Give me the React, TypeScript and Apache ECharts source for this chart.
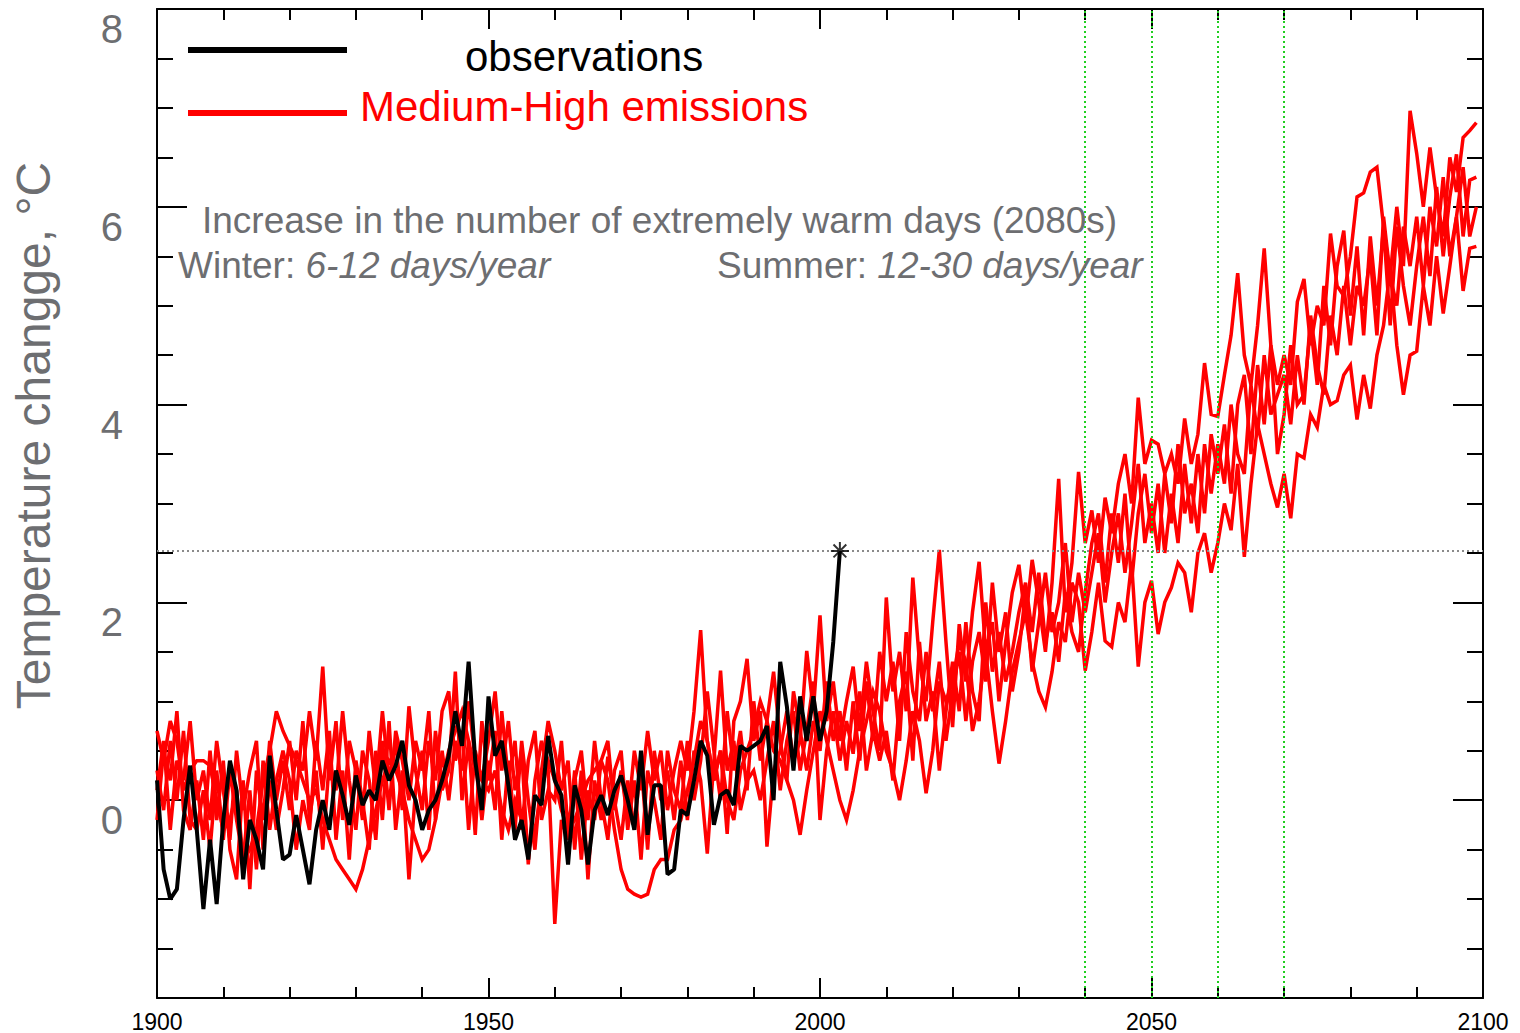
import React, { useEffect, useRef } from "react";
import * as echarts from "echarts";

const FONT = "'Liberation Sans', Arial, Helvetica, sans-serif";
const GRAY = "#6d6e71";
const RED = "#ff0000";

const obsStartYear = 1900;
const modelStartYear = 1900;

// Observed summer temperature anomaly (°C), 1900-2003
const observations = [
  0.2, -0.7, -1.0, -0.9, -0.2, 0.35, -0.3, -1.1, -0.4, -1.05,
  -0.2, 0.4, 0.1, -0.8, -0.2, -0.4, -0.7, 0.45, -0.1, -0.6,
  -0.55, -0.15, -0.5, -0.85, -0.3, 0.0, -0.3, 0.3, 0.05, -0.25,
  0.25, -0.05, 0.1, 0.0, 0.4, 0.2, 0.35, 0.6, 0.15, 0.0,
  -0.3, -0.1, 0.0, 0.2, 0.45, 0.9, 0.55, 1.4, 0.4, -0.1,
  1.05, 0.45, 0.6, 0.15, -0.4, -0.2, -0.6, 0.05, -0.05, 0.65,
  0.2, 0.05, -0.65, 0.15, -0.1, -0.65, -0.1, 0.05, -0.15, 0.1,
  0.25, 0.0, -0.3, 0.5, -0.35, 0.15, 0.15, -0.75, -0.7, -0.1,
  -0.15, 0.2, 0.6, 0.45, -0.25, 0.05, 0.1, -0.05, 0.55, 0.5,
  0.55, 0.6, 0.75, 0.0, 1.4, 0.95, 0.3, 1.05, 0.6, 1.05,
  0.6, 0.9, 1.6, 2.52,
];

// Model ensemble members, Medium-High emissions, 1900-2099
const memberA = [
  0.7, 0.4, 0.8, 0.6, 0.1, 0.3, 0.4, 0.4, 0.35, 0.0,
  -0.3, -0.2, 0.1, -0.6, -0.5, -0.3, 0.2, 0.5, 0.9, 0.7,
  0.55, 0.4, 0.2, 0.0, 0.1, -0.2, -0.4, -0.6, -0.7, -0.8,
  -0.9, -0.7, -0.4, -0.1, 0.2, 0.4, 0.3, 0.1, -0.2, -0.4,
  -0.6, -0.5, -0.2, 0.2, 0.5, 0.7, 0.9, 0.6, 0.3, 0.2,
  0.1, 0.3, -0.1, -0.3, 0.0, -0.2, -0.5, -0.3, 0.1, 0.4,
  0.2, -0.1, -0.3, -0.2, 0.0, 0.2, 0.3, 0.4, 0.2, -0.3,
  -0.7, -0.9, -0.95, -0.98, -0.95, -0.7, -0.6, -0.6, -0.3, -0.2,
  0.1, 0.4, 0.8, 0.6, 0.2, 0.5, 0.0, -0.2, 0.3, 0.5,
  0.7, 1.0, 0.8, 0.5, 0.4, 0.2, 0.0, -0.35, 0.1, 0.5,
  0.9, 0.6, 0.3, 0.0, -0.2, 0.1, 0.5, 0.8, 1.1, 0.9,
  0.5, 0.3, 0.0, 0.4, 0.9, 0.6, 0.07, 0.5, 1.2, 1.0,
  1.2, 1.6, 1.4, 0.7, 1.0, 1.5, 0.9, 0.37, 0.8, 1.3,
  1.6, 1.9, 1.4, 1.1, 0.94, 1.3, 1.8, 1.6, 2.2, 2.0,
  1.31, 1.7, 2.2, 1.61, 1.55, 2.0, 1.8, 2.4, 1.35, 2.0,
  2.22, 1.68, 2.0, 2.15, 2.4, 2.3, 1.9, 2.5, 2.7, 2.3,
  2.6, 3.0, 2.73, 3.4, 2.46, 3.2, 3.8, 3.5, 3.2, 2.96,
  3.3, 2.85, 3.5, 3.46, 3.9, 3.77, 4.2, 4.0, 4.04, 4.3,
  4.4, 3.85, 4.3, 3.96, 4.5, 4.8, 5.38, 4.6, 4.1, 4.5,
  4.54, 5.2, 4.8, 5.5, 4.92, 5.4, 5.9, 5.15, 5.58, 5.6,
];

const memberB = [
  -0.2, 0.5, 0.2, 0.9, -0.1, -0.3, 0.2, -0.4, 0.5, -0.2,
  0.4, -0.5, -0.8, 0.2, -0.9, 0.3, -0.2, 0.6, 0.0, 0.4,
  -0.1, 0.5, 0.3, 0.9, 0.4, 1.35, 0.2, 0.8, -0.2, 0.6,
  0.3, -0.2, 0.7, 0.1, 0.9, 0.2, 0.6, -0.1, 0.95, 0.3,
  -0.1, 0.6, 0.2, 0.9, 1.1, 0.4, 0.7, -0.3, 0.5, 0.2,
  0.6, 1.1, 0.3, 0.8, 0.1, 0.5, -0.65, 0.2, 0.6, 0.3,
  -1.25, -0.2, -0.4, 0.3, -0.6, 0.1, -0.2, 0.4, 0.6, -0.1,
  0.3, -0.2, 0.5, 0.1, 0.7, 0.2, 0.5, -0.1, 0.3, 0.6,
  0.3, 0.9, 1.72, 0.6, 0.2, 0.5, -0.34, 0.8, 1.0, 1.43,
  0.6, 0.9, -0.47, 0.3, 0.5, 0.9, 0.4, 0.6, 1.51, 0.9,
  1.87, 0.8, 1.2, 0.6, 1.0, 1.35, 0.7, 1.4, 0.9, 0.5,
  2.05, 1.1, 1.5, 0.9, 2.25, 1.4, 1.0, 1.8, 2.53, 1.6,
  0.74, 1.78, 1.2, 1.9, 2.41, 1.5, 1.8, 1.0, 1.6, 2.1,
  2.38, 1.8, 2.43, 2.0, 1.5, 2.2, 3.25, 1.9, 2.4, 3.32,
  2.6, 2.93, 2.4, 3.06, 2.7, 3.2, 3.5, 3.0, 4.07, 3.4,
  3.64, 3.6, 3.3, 3.5, 3.2, 3.86, 3.4, 3.7, 4.42, 3.9,
  3.88, 4.3, 4.7, 5.33, 4.5, 4.2, 4.8, 5.58, 4.6, 4.2,
  4.5, 4.2, 5.04, 5.27, 4.6, 5.0, 4.8, 5.73, 5.2, 5.1,
  5.5, 6.1, 6.14, 6.35, 6.4, 5.8, 5.3, 6.0, 5.4, 6.97,
  6.54, 6.0, 6.6, 6.1, 5.7, 6.5, 6.15, 6.7, 6.77, 6.85,
];

const memberC = [
  0.3, -0.1, 0.6, 0.0, 0.7, -0.2, -0.3, 0.1, -0.5, 0.3,
  -0.4, 0.3, -0.2, -0.6, 0.1, -0.7, 0.4, -0.3, 0.2, 0.5,
  0.2, -0.5, 0.0, -0.3, 0.6, 0.1, 0.7, -0.4, 0.3, -0.6,
  0.4, 0.0, -0.5, 0.5, -0.2, 0.8, -0.3, 0.3, -0.8, 0.1,
  0.5, -0.3, 0.7, 0.1, 0.3, 1.3, 0.0, 0.6, -0.35, 0.8,
  0.2, 0.7, -0.4, 0.4, -0.3, 0.6, 0.0, -0.5, 0.3, 0.8,
  0.5, 0.1, 0.4, -0.5, 0.3, -0.8, 0.2, -0.2, 0.44, 0.0,
  -0.4, 0.2, -0.3, 0.4, -0.5, 0.5, 0.0, 0.3, -0.2, 0.4,
  -0.2, 0.5, 0.2, -0.54, 0.4, 1.31, 0.3, 0.6, -0.1, 0.2,
  0.3, 0.0, 0.4, 0.8, 0.1, 0.6, 0.9, 0.3, 0.7, 1.2,
  -0.2, 0.5, 0.9, 0.4, 0.8, 0.47, 1.1, 0.3, 0.7, 0.4,
  0.7, 0.2, 1.0, 1.3, 0.4, 1.6, 0.8, 1.1, 0.3, 0.9,
  1.4, 0.9, 1.8, 1.1, 0.8, 2.0, 1.3, 1.7, 1.2, 1.5,
  1.9, 2.2, 1.7, 2.3, 1.6, 1.9, 1.4, 2.1, 1.7, 1.5,
  2.1, 2.6, 2.9, 2.2, 2.9, 2.4, 3.1, 2.2, 2.9, 3.3,
  2.7, 3.2, 2.5, 3.1, 2.6, 3.4, 2.8, 3.5, 2.9, 3.7,
  3.3, 3.8, 3.1, 4.0, 4.3, 3.5, 4.4, 3.8, 4.6, 3.5,
  3.9, 4.6, 4.0, 4.1, 4.8, 4.2, 5.2, 4.6, 5.4, 5.76,
  4.9, 5.6, 4.7, 5.7, 5.0, 5.8, 4.8, 5.8, 5.2, 4.8,
  5.4, 5.9, 5.3, 6.2, 5.5, 6.1, 6.53, 5.7, 6.27, 6.3,
];

const memberD = [
  0.1, 0.6, -0.3, 0.4, 0.2, 0.8, 0.0, 0.3, -0.2, 0.6,
  0.1, -0.4, 0.5, -0.1, 0.3, 0.6, -0.5, 0.2, -0.3, 0.1,
  0.6, 0.0, 0.8, -0.2, 0.3, -0.5, 0.4, 0.1, 0.9, 0.2,
  -0.3, 0.5, 0.2, -0.4, 0.6, -0.1, 0.7, 0.4, 0.0, 0.6,
  0.3, 0.9, -0.2, 0.5, 0.0, 0.6, 0.3, 1.0, 0.4, -0.2,
  0.4, -0.1, 0.9, 0.2, 0.6, -0.3, 0.4, 0.7, -0.2, 0.1,
  0.0, 0.6, -0.3, 0.2, 0.5, -0.2, 0.6, 0.0, -0.4, 0.3,
  0.5, -0.3, 0.2, -0.6, 0.3, 0.0, -0.4, 0.5, 0.1, -0.1,
  0.6, 0.0, 0.4, 1.1, 0.5, 0.0, 0.9, 0.3, 0.7, 0.1,
  1.0, 0.4, 0.8, 1.3, 0.6, 0.2, 1.1, 0.7, 0.3, 0.8,
  0.5, 1.2, 0.6, 0.9, 0.3, 1.0, 0.4, 1.2, 0.6, 1.5,
  1.0, 1.4, 0.6, 1.7, 1.1, 0.8, 1.5, 0.9, 1.4, 0.6,
  1.1, 1.5, 0.8, 1.4, 1.7, 1.2, 2.2, 1.5, 1.9, 1.1,
  1.5, 2.1, 1.3, 1.8, 2.3, 1.7, 2.0, 2.6, 1.8, 2.3,
  1.9, 2.3, 2.7, 2.0, 2.5, 2.9, 2.3, 2.8, 3.4, 2.6,
  3.0, 2.5, 3.3, 2.8, 3.6, 2.9, 3.2, 2.7, 3.6, 3.1,
  3.6, 3.2, 4.0, 3.5, 3.3, 4.2, 3.7, 4.5, 3.9, 4.1,
  4.3, 3.8, 4.5, 4.0, 4.9, 4.4, 4.1, 4.9, 4.5, 5.2,
  4.6, 5.2, 5.0, 5.5, 4.7, 5.9, 5.3, 5.0, 5.8, 5.4,
  5.9, 5.2, 6.0, 5.6, 6.3, 5.5, 5.9, 6.4, 5.7, 6.0,
];

const yLabelValues = [0, 2, 4, 6, 8];
const markerYears = [2040, 2050, 2060, 2070];
const heatwaveYear = 2003;
const heatwaveValue = 2.52;

const yAxisTitle = "Temperature changge, °C";
const legendLabels = ["observations", "Medium-High emissions"];
const annotationTitle = "Increase in the number of extremely warm days (2080s)";
const winterText = "Winter: {i|6-12 days/year}";
const summerText = "Summer: {i|12-30 days/year}";

const toPairs = (start: number, vals: number[]) => vals.map((v, i) => [start + i, v]);

const ASTERISK =
  "path://M-1,-9L1,-9L1,9L-1,9Z M-9,-1L9,-1L9,1L-9,1Z M-5.7,-7.1L7.1,5.7L5.7,7.1L-7.1,-5.7Z M5.7,-7.1L7.1,-5.7L-5.7,7.1L-7.1,5.7Z";

function buildOption(): any {
  const axisLine = { show: true, onZero: false, lineStyle: { color: "#000", width: 2 } };
  const tickStyle = { color: "#000", width: 2 };
  const redLine = (name: string, vals: number[]) => ({
    name,
    type: "line",
    data: toPairs(modelStartYear, vals),
    showSymbol: false,
    symbol: "none",
    lineStyle: { color: RED, width: 3.5, join: "miter" },
    z: 2,
  });
  const richItalic = {
    i: { fontStyle: "italic", fontSize: 37, fontFamily: FONT, fill: GRAY },
  };
  return {
    animation: false,
    backgroundColor: "#ffffff",
    grid: { left: 157, right: 37, top: 9, bottom: 35, containLabel: false },
    xAxis: [
      {
        type: "value",
        min: 1900,
        max: 2100,
        interval: 50,
        position: "bottom",
        axisLine,
        axisTick: { show: true, inside: true, length: 20, lineStyle: tickStyle },
        minorTick: { show: true, splitNumber: 5, length: 11, lineStyle: tickStyle },
        axisLabel: {
          fontSize: 23,
          color: "#000",
          margin: 12,
          fontFamily: FONT,
          formatter: (v: number) => String(v),
        },
        splitLine: { show: false },
        minorSplitLine: { show: false },
      },
      {
        type: "value",
        min: 1900,
        max: 2100,
        interval: 50,
        position: "top",
        axisLine,
        axisTick: { show: true, inside: true, length: 20, lineStyle: tickStyle },
        minorTick: { show: true, splitNumber: 5, length: 11, lineStyle: tickStyle },
        axisLabel: { show: false },
        splitLine: { show: false },
      },
    ],
    yAxis: [
      {
        type: "value",
        min: -2,
        max: 8,
        interval: 2,
        position: "left",
        axisLine,
        axisTick: { show: true, inside: true, length: 30, lineStyle: tickStyle },
        minorTick: { show: true, splitNumber: 4, length: 16, lineStyle: tickStyle },
        axisLabel: {
          fontSize: 40,
          color: GRAY,
          fontFamily: FONT,
          margin: 34,
          verticalAlign: "top",
          lineHeight: 40,
          formatter: (v: number) => (yLabelValues.includes(v) ? String(v) : ""),
        },
        splitLine: { show: false },
        name: yAxisTitle,
        nameLocation: "middle",
        nameRotate: 90,
        nameGap: 100,
        nameTextStyle: { fontSize: 48, color: GRAY, fontFamily: FONT, padding: [0, 0, 0, 136] },
      },
      {
        type: "value",
        min: -2,
        max: 8,
        interval: 2,
        position: "right",
        axisLine,
        axisTick: { show: true, inside: true, length: 30, lineStyle: tickStyle },
        minorTick: { show: true, splitNumber: 4, length: 16, lineStyle: tickStyle },
        axisLabel: { show: false },
        splitLine: { show: false },
      },
    ],
    series: [
      redLine("Medium-High emissions A", memberA),
      redLine("Medium-High emissions B", memberB),
      redLine("Medium-High emissions C", memberC),
      redLine("Medium-High emissions D", memberD),
      {
        name: "observations",
        type: "line",
        data: toPairs(obsStartYear, observations),
        showSymbol: false,
        symbol: "none",
        lineStyle: { color: "#000", width: 4 },
        z: 4,
      },
      {
        name: "2003",
        type: "scatter",
        data: [[heatwaveYear, heatwaveValue]],
        symbol: ASTERISK,
        symbolSize: 18,
        itemStyle: { color: "#000" },
        z: 10,
        markLine: {
          silent: true,
          symbol: ["none", "none"],
          label: { show: false },
          data: [
            { yAxis: heatwaveValue, lineStyle: { color: "#8a8a8a", type: [2, 3], width: 2 } },
            ...markerYears.map((y) => ({
              xAxis: y,
              lineStyle: { color: "#1fcf1f", type: [2, 3], width: 2 },
            })),
          ],
        },
      },
    ],
    graphic: [
      {
        type: "line",
        shape: { x1: 188, y1: 50, x2: 347, y2: 50 },
        style: { stroke: "#000", lineWidth: 6 },
        z: 20,
      },
      {
        type: "text",
        x: 465,
        y: 56,
        style: {
          text: legendLabels[0],
          fontSize: 42,
          fontFamily: FONT,
          fill: "#000",
          textAlign: "left",
          textVerticalAlign: "middle",
        },
        z: 20,
      },
      {
        type: "line",
        shape: { x1: 188, y1: 113, x2: 347, y2: 113 },
        style: { stroke: RED, lineWidth: 6 },
        z: 20,
      },
      {
        type: "text",
        x: 360,
        y: 106,
        style: {
          text: legendLabels[1],
          fontSize: 42,
          fontFamily: FONT,
          fill: RED,
          textAlign: "left",
          textVerticalAlign: "middle",
        },
        z: 20,
      },
      {
        type: "text",
        x: 202,
        y: 220,
        style: {
          text: annotationTitle,
          fontSize: 37,
          fontFamily: FONT,
          fill: GRAY,
          textAlign: "left",
          textVerticalAlign: "middle",
        },
        z: 20,
      },
      {
        type: "text",
        x: 178,
        y: 265,
        style: {
          text: winterText,
          fontSize: 37,
          fontFamily: FONT,
          fill: GRAY,
          textAlign: "left",
          textVerticalAlign: "middle",
          rich: richItalic,
        },
        z: 20,
      },
      {
        type: "text",
        x: 717,
        y: 265,
        style: {
          text: summerText,
          fontSize: 37,
          fontFamily: FONT,
          fill: GRAY,
          textAlign: "left",
          textVerticalAlign: "middle",
          rich: richItalic,
        },
        z: 20,
      },
    ],
  };
}

export default function App() {
  const ref = useRef<HTMLDivElement>(null);
  useEffect(() => {
    if (!ref.current) return;
    const chart = echarts.init(ref.current, null, { renderer: "svg" });
    chart.setOption(buildOption());
    return () => {
      chart.dispose();
    };
  }, []);
  return (
    <div
      ref={ref}
      style={{ position: "absolute", left: 0, top: 0, width: 1520, height: 1033, background: "#fff" }}
    />
  );
}
